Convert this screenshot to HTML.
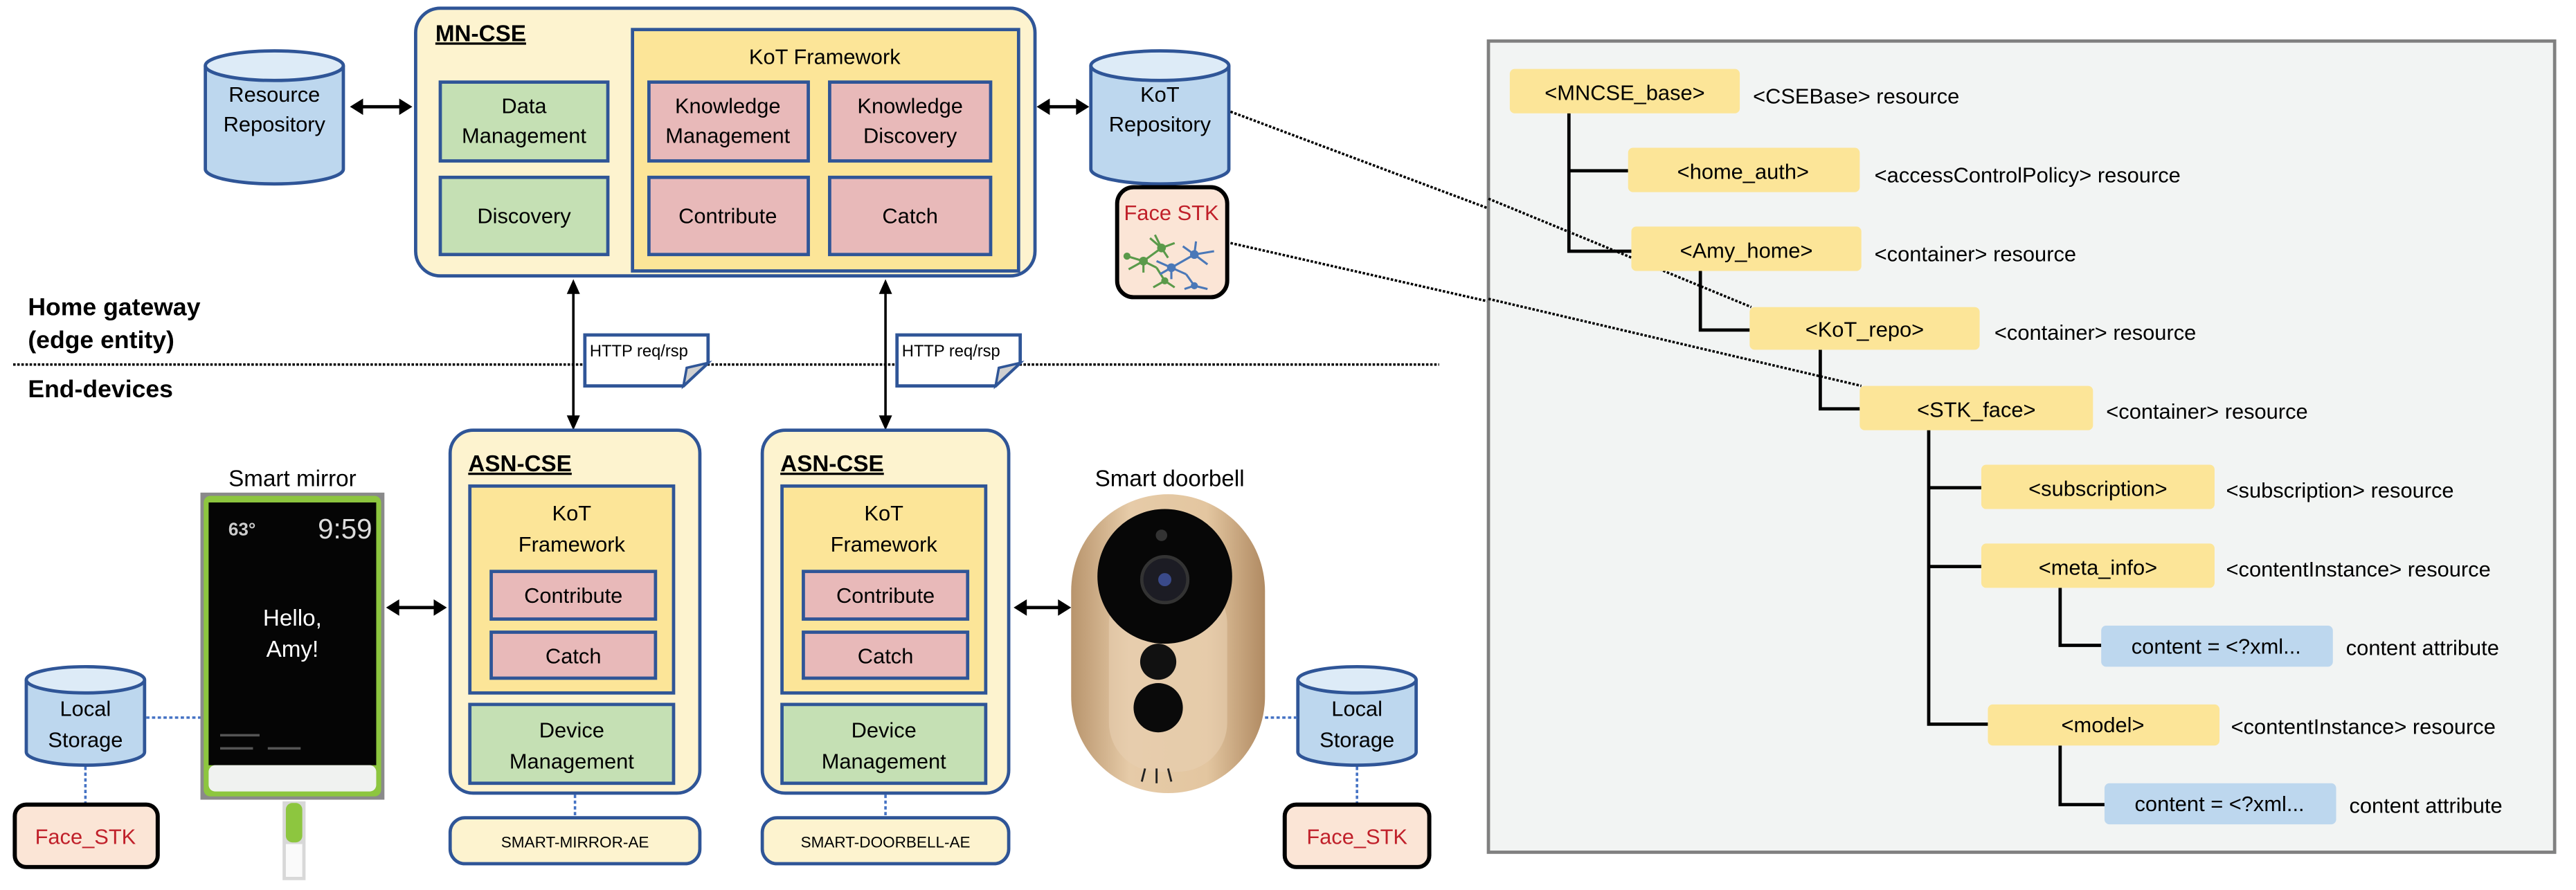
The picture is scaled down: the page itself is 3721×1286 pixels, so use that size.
<!DOCTYPE html>
<html><head><meta charset="utf-8"><style>
html,body{margin:0;padding:0;background:#fff;}
svg{display:block;}
text{font-family:"Liberation Sans",sans-serif;fill:#000;}
</style></head><body>
<svg width="3721" height="1286" viewBox="0 0 1568 542" preserveAspectRatio="none" xmlns="http://www.w3.org/2000/svg">
<defs>
<linearGradient id="gold" x1="0" y1="0" x2="1" y2="0">
<stop offset="0" stop-color="#b8946c"/><stop offset="0.3" stop-color="#e6cba8"/><stop offset="0.7" stop-color="#e3c6a0"/><stop offset="1" stop-color="#b08a62"/></linearGradient>
</defs>
<g font-size="13">
<!-- MN-CSE -->
<rect x="253" y="5" width="377" height="163" rx="15" fill="#fdf3cf" stroke="#2f5597" stroke-width="2"/>
<text x="265" y="25" font-weight="bold" font-size="14" text-decoration="underline">MN-CSE</text>
<rect x="385" y="18" width="235" height="147" fill="#fce598" stroke="#2f5597" stroke-width="2"/>
<text x="502" y="39" text-anchor="middle">KoT Framework</text>
<rect x="268" y="50" width="102" height="48" fill="#c5e0b4" stroke="#2f5597" stroke-width="2"/>
<text x="319" y="69" text-anchor="middle">Data</text><text x="319" y="87" text-anchor="middle">Management</text>
<rect x="268" y="108" width="102" height="47" fill="#c5e0b4" stroke="#2f5597" stroke-width="2"/>
<text x="319" y="136" text-anchor="middle">Discovery</text>
<rect x="395" y="50" width="97" height="48" fill="#e8b9b9" stroke="#2f5597" stroke-width="2"/>
<text x="443" y="69" text-anchor="middle">Knowledge</text><text x="443" y="87" text-anchor="middle">Management</text>
<rect x="505" y="50" width="98" height="48" fill="#e8b9b9" stroke="#2f5597" stroke-width="2"/>
<text x="554" y="69" text-anchor="middle">Knowledge</text><text x="554" y="87" text-anchor="middle">Discovery</text>
<rect x="395" y="108" width="97" height="47" fill="#e8b9b9" stroke="#2f5597" stroke-width="2"/>
<text x="443" y="136" text-anchor="middle">Contribute</text>
<rect x="505" y="108" width="98" height="47" fill="#e8b9b9" stroke="#2f5597" stroke-width="2"/>
<text x="554" y="136" text-anchor="middle">Catch</text>

<!-- Resource Repository -->
<path d="M125,40 L125,103 A42,9 0 0 0 209,103 L209,40" fill="#bdd7ee" stroke="#2f5597" stroke-width="2"/>
<ellipse cx="167" cy="40" rx="42" ry="9" fill="#ddebf7" stroke="#2f5597" stroke-width="2"/>
<text x="167" y="62" text-anchor="middle">Resource</text><text x="167" y="80" text-anchor="middle">Repository</text>
<line x1="217" y1="65" x2="247" y2="65" stroke="#000" stroke-width="2"/>
<path d="M213,65 l8,-5 v10 z M251,65 l-8,-5 v10 z" fill="#000"/>
<!-- KoT Repository -->
<path d="M664,40 L664,103 A42,9 0 0 0 748,103 L748,40" fill="#bdd7ee" stroke="#2f5597" stroke-width="2"/>
<ellipse cx="706" cy="40" rx="42" ry="9" fill="#ddebf7" stroke="#2f5597" stroke-width="2"/>
<text x="706" y="62" text-anchor="middle">KoT</text><text x="706" y="80" text-anchor="middle">Repository</text>
<line x1="634" y1="65" x2="660" y2="65" stroke="#000" stroke-width="2"/>
<path d="M631,65 l8,-5 v10 z M663,65 l-8,-5 v10 z" fill="#000"/>
<line x1="706" y1="113" x2="706" y2="118" stroke="#4472c4" stroke-width="1.5" stroke-dasharray="2,1.5"/>
<!-- Face STK -->
<rect x="680" y="114" width="67" height="67" rx="10" fill="#fbe5d6" stroke="#000" stroke-width="2.5"/>
<text x="713" y="134" text-anchor="middle" style="fill:#c0202a">Face STK</text>
<g stroke="#5a9a4a" stroke-width="1.3" fill="#5a9a4a">
<line x1="696" y1="159" x2="707" y2="151"/><line x1="707" y1="151" x2="715" y2="148"/><line x1="707" y1="151" x2="703" y2="143"/><line x1="707" y1="151" x2="711" y2="157"/><line x1="707" y1="151" x2="700" y2="145"/>
<line x1="696" y1="159" x2="686" y2="156"/><line x1="696" y1="159" x2="687" y2="164"/><line x1="696" y1="159" x2="696" y2="166"/><line x1="696" y1="159" x2="704" y2="163"/>
<line x1="704" y1="163" x2="709" y2="171"/><line x1="709" y1="171" x2="702" y2="175"/><line x1="709" y1="171" x2="715" y2="175"/>
<circle cx="696" cy="159" r="2"/><circle cx="707" cy="151" r="2"/><circle cx="709" cy="171" r="1.5"/><circle cx="686" cy="156" r="1.5"/></g>
<g stroke="#4a78b8" stroke-width="1.3" fill="#4a78b8">
<line x1="713" y1="163" x2="727" y2="155"/><line x1="727" y1="155" x2="739" y2="153"/><line x1="727" y1="155" x2="720" y2="150"/><line x1="727" y1="155" x2="728" y2="147"/><line x1="727" y1="155" x2="735" y2="161"/>
<line x1="713" y1="163" x2="704" y2="159"/><line x1="713" y1="163" x2="706" y2="167"/><line x1="713" y1="163" x2="713" y2="170"/><line x1="713" y1="163" x2="722" y2="167"/>
<line x1="722" y1="167" x2="727" y2="174"/><line x1="727" y1="174" x2="721" y2="176"/><line x1="727" y1="174" x2="735" y2="176"/>
<circle cx="713" cy="163" r="2"/><circle cx="727" cy="155" r="2"/><circle cx="727" cy="174" r="1.5"/></g>
<!-- dotted links to tree -->
<line x1="749" y1="68" x2="1066" y2="187" stroke="#000" stroke-width="1.5" stroke-dasharray="1.5,1"/>
<line x1="749" y1="148" x2="1133" y2="235" stroke="#000" stroke-width="1.5" stroke-dasharray="1.5,1"/>

<!-- labels -->
<text x="17" y="192" font-weight="bold" font-size="15">Home gateway</text>
<text x="17" y="212" font-weight="bold" font-size="15">(edge entity)</text>
<line x1="8" y1="222" x2="876" y2="222" stroke="#000" stroke-width="1.5" stroke-dasharray="1.5,1"/>
<text x="17" y="242" font-weight="bold" font-size="15">End-devices</text>

<!-- vertical arrows -->
<line x1="349" y1="178" x2="349" y2="255" stroke="#000" stroke-width="1.5"/>
<path d="M349,170 l-4,9 h8 z M349,262 l-4,-9 h8 z" fill="#000"/>
<line x1="539" y1="178" x2="539" y2="255" stroke="#000" stroke-width="1.5"/>
<path d="M539,170 l-4,9 h8 z M539,262 l-4,-9 h8 z" fill="#000"/>
<!-- notes -->
<path d="M356,204 H431 V221 L416,235 H356 Z" fill="#fff" stroke="#2f5597" stroke-width="2"/>
<path d="M431,221 L418,224 L416,235 Z" fill="#d0d0d0" stroke="#2f5597" stroke-width="1.5"/>
<text x="359" y="217" font-size="10">HTTP req/rsp</text>
<path d="M546,204 H621 V221 L606,235 H546 Z" fill="#fff" stroke="#2f5597" stroke-width="2"/>
<path d="M621,221 L608,224 L606,235 Z" fill="#d0d0d0" stroke="#2f5597" stroke-width="1.5"/>
<text x="549" y="217" font-size="10">HTTP req/rsp</text>

<!-- ASN-CSE 1 -->
<rect x="274" y="262" width="152" height="221" rx="14" fill="#fdf3cf" stroke="#2f5597" stroke-width="2"/>
<text x="285" y="287" font-weight="bold" font-size="14" text-decoration="underline">ASN-CSE</text>
<rect x="286" y="296" width="124" height="126" fill="#fce598" stroke="#2f5597" stroke-width="2"/>
<text x="348" y="317" text-anchor="middle">KoT</text><text x="348" y="336" text-anchor="middle">Framework</text>
<rect x="299" y="348" width="100" height="29" fill="#e8b9b9" stroke="#2f5597" stroke-width="2"/>
<text x="349" y="367" text-anchor="middle">Contribute</text>
<rect x="299" y="385" width="100" height="28" fill="#e8b9b9" stroke="#2f5597" stroke-width="2"/>
<text x="349" y="404" text-anchor="middle">Catch</text>
<rect x="286" y="429" width="124" height="48" fill="#c5e0b4" stroke="#2f5597" stroke-width="2"/>
<text x="348" y="449" text-anchor="middle">Device</text><text x="348" y="468" text-anchor="middle">Management</text>
<line x1="350" y1="484" x2="350" y2="497" stroke="#4472c4" stroke-width="1.5" stroke-dasharray="2,1.5"/>
<rect x="274" y="498" width="152" height="28" rx="9" fill="#fdf3cf" stroke="#2f5597" stroke-width="2"/>
<text x="350" y="516" text-anchor="middle" font-size="9.5">SMART-MIRROR-AE</text>

<!-- ASN-CSE 2 -->
<rect x="464" y="262" width="150" height="221" rx="14" fill="#fdf3cf" stroke="#2f5597" stroke-width="2"/>
<text x="475" y="287" font-weight="bold" font-size="14" text-decoration="underline">ASN-CSE</text>
<rect x="476" y="296" width="124" height="126" fill="#fce598" stroke="#2f5597" stroke-width="2"/>
<text x="538" y="317" text-anchor="middle">KoT</text><text x="538" y="336" text-anchor="middle">Framework</text>
<rect x="489" y="348" width="100" height="29" fill="#e8b9b9" stroke="#2f5597" stroke-width="2"/>
<text x="539" y="367" text-anchor="middle">Contribute</text>
<rect x="489" y="385" width="100" height="28" fill="#e8b9b9" stroke="#2f5597" stroke-width="2"/>
<text x="539" y="404" text-anchor="middle">Catch</text>
<rect x="476" y="429" width="124" height="48" fill="#c5e0b4" stroke="#2f5597" stroke-width="2"/>
<text x="538" y="449" text-anchor="middle">Device</text><text x="538" y="468" text-anchor="middle">Management</text>
<line x1="539" y1="484" x2="539" y2="497" stroke="#4472c4" stroke-width="1.5" stroke-dasharray="2,1.5"/>
<rect x="464" y="498" width="150" height="28" rx="9" fill="#fdf3cf" stroke="#2f5597" stroke-width="2"/>
<text x="539" y="516" text-anchor="middle" font-size="9.5">SMART-DOORBELL-AE</text>

<!-- Smart mirror -->
<text x="178" y="296" text-anchor="middle" font-size="14">Smart mirror</text>
<rect x="122" y="300" width="112" height="187" fill="#8a8a8a"/>
<rect x="124" y="302" width="108" height="183" rx="4" fill="#8dc63f"/>
<rect x="127" y="306" width="102" height="160" fill="#050505"/>
<rect x="127" y="466" width="102" height="16" rx="4" fill="#f0f2f0"/>
<text x="139" y="326" font-size="11" font-weight="bold" style="fill:#ccc">63°</text>
<text x="210" y="328" font-size="17" text-anchor="middle" style="fill:#ddd">9:59</text>
<text x="178" y="381" text-anchor="middle" font-size="14" style="fill:#fff">Hello,</text>
<text x="178" y="400" text-anchor="middle" font-size="14" style="fill:#fff">Amy!</text>
<rect x="134" y="447" width="24" height="1.5" fill="#555"/><rect x="134" y="455" width="20" height="1.5" fill="#555"/><rect x="163" y="455" width="20" height="1.5" fill="#555"/>
<rect x="172" y="488" width="14" height="48" fill="#d8d8d8"/>
<rect x="174" y="489" width="10" height="24" rx="4" fill="#8dc63f"/>
<rect x="174" y="514" width="10" height="20" fill="#fafafa"/>
<line x1="239" y1="370" x2="268" y2="370" stroke="#000" stroke-width="2"/>
<path d="M235,370 l8,-5 v10 z M272,370 l-8,-5 v10 z" fill="#000"/>

<!-- Smart doorbell -->
<text x="712" y="296" text-anchor="middle" font-size="14">Smart doorbell</text>
<rect x="652" y="301" width="118" height="182" rx="59" fill="url(#gold)"/>
<rect x="675" y="350" width="72" height="120" rx="30" fill="#e8cfb0" opacity="0.6"/>
<ellipse cx="709" cy="351" rx="41" ry="41" fill="#070707"/>
<circle cx="709" cy="353" r="14" fill="#1c1c24" stroke="#333" stroke-width="2"/>
<circle cx="709" cy="353" r="4" fill="#3a4a8a"/>
<circle cx="707" cy="326" r="3.5" fill="#333"/>
<circle cx="705" cy="403" r="11" fill="#111"/>
<circle cx="705" cy="431" r="15" fill="#0a0a0a"/>
<g stroke="#222" stroke-width="1.2"><line x1="697" y1="468" x2="695" y2="476"/><line x1="704" y1="468" x2="704" y2="477"/><line x1="711" y1="468" x2="713" y2="476"/></g>
<line x1="623" y1="370" x2="646" y2="370" stroke="#000" stroke-width="2"/>
<path d="M617,370 l8,-5 v10 z M652,370 l-8,-5 v10 z" fill="#000"/>

<!-- Local storage left -->
<path d="M16,414 L16,458 A36,8 0 0 0 88,458 L88,414" fill="#bdd7ee" stroke="#2f5597" stroke-width="2"/>
<ellipse cx="52" cy="414" rx="36" ry="8" fill="#ddebf7" stroke="#2f5597" stroke-width="2"/>
<text x="52" y="436" text-anchor="middle">Local</text><text x="52" y="455" text-anchor="middle">Storage</text>
<line x1="89" y1="437" x2="122" y2="437" stroke="#4472c4" stroke-width="1.5" stroke-dasharray="2,1.5"/>
<line x1="52" y1="467" x2="52" y2="490" stroke="#4472c4" stroke-width="1.5" stroke-dasharray="2,1.5"/>
<rect x="9" y="490" width="87" height="38" rx="7" fill="#fbe5d6" stroke="#000" stroke-width="2.5"/>
<text x="52" y="514" text-anchor="middle" style="fill:#c0202a">Face_STK</text>
<!-- Local storage right -->
<path d="M790,414 L790,458 A36,8 0 0 0 862,458 L862,414" fill="#bdd7ee" stroke="#2f5597" stroke-width="2"/>
<ellipse cx="826" cy="414" rx="36" ry="8" fill="#ddebf7" stroke="#2f5597" stroke-width="2"/>
<text x="826" y="436" text-anchor="middle">Local</text><text x="826" y="455" text-anchor="middle">Storage</text>
<line x1="770" y1="437" x2="790" y2="437" stroke="#4472c4" stroke-width="1.5" stroke-dasharray="2,1.5"/>
<line x1="826" y1="467" x2="826" y2="490" stroke="#4472c4" stroke-width="1.5" stroke-dasharray="2,1.5"/>
<rect x="782" y="490" width="88" height="38" rx="7" fill="#fbe5d6" stroke="#000" stroke-width="2.5"/>
<text x="826" y="514" text-anchor="middle" style="fill:#c0202a">Face_STK</text>
</g>

<!-- Right panel -->
<rect x="906" y="25" width="649" height="494" fill="#f2f4f3" stroke="#808080" stroke-width="2"/>
<line x1="906" y1="121" x2="1066" y2="187" stroke="#000" stroke-width="1.5" stroke-dasharray="1.5,1"/>
<line x1="906" y1="182" x2="1133" y2="235" stroke="#000" stroke-width="1.5" stroke-dasharray="1.5,1"/>
<g stroke="#000" stroke-width="2" fill="none">
<polyline points="955,69 955,153 993,153"/><line x1="955" y1="104" x2="991" y2="104"/>
<polyline points="1035,165 1035,201 1065,201"/>
<polyline points="1108,213 1108,249 1132,249"/>
<polyline points="1174,262 1174,441 1210,441"/><line x1="1174" y1="297" x2="1206" y2="297"/><line x1="1174" y1="345" x2="1206" y2="345"/>
<polyline points="1254,358 1254,393 1279,393"/>
<polyline points="1254,454 1254,490 1281,490"/>
</g>
<g font-size="13">
<rect x="919" y="42" width="140" height="27" rx="3" fill="#fce598"/><text x="989" y="61" text-anchor="middle">&lt;MNCSE_base&gt;</text>
<text x="1067" y="63">&lt;CSEBase&gt; resource</text>
<rect x="991" y="90" width="141" height="27" rx="3" fill="#fce598"/><text x="1061" y="109" text-anchor="middle">&lt;home_auth&gt;</text>
<text x="1141" y="111">&lt;accessControlPolicy&gt; resource</text>
<rect x="993" y="138" width="140" height="27" rx="3" fill="#fce598"/><text x="1063" y="157" text-anchor="middle">&lt;Amy_home&gt;</text>
<text x="1141" y="159">&lt;container&gt; resource</text>
<rect x="1065" y="187" width="140" height="26" rx="3" fill="#fce598"/><text x="1135" y="205" text-anchor="middle">&lt;KoT_repo&gt;</text>
<text x="1214" y="207">&lt;container&gt; resource</text>
<rect x="1132" y="235" width="142" height="27" rx="3" fill="#fce598"/><text x="1203" y="254" text-anchor="middle">&lt;STK_face&gt;</text>
<text x="1282" y="255">&lt;container&gt; resource</text>
<rect x="1206" y="283" width="142" height="27" rx="3" fill="#fce598"/><text x="1277" y="302" text-anchor="middle">&lt;subscription&gt;</text>
<text x="1355" y="303">&lt;subscription&gt; resource</text>
<rect x="1206" y="331" width="142" height="27" rx="3" fill="#fce598"/><text x="1277" y="350" text-anchor="middle">&lt;meta_info&gt;</text>
<text x="1355" y="351">&lt;contentInstance&gt; resource</text>
<rect x="1279" y="381" width="141" height="25" rx="3" fill="#bdd7ee"/><text x="1349" y="398" text-anchor="middle">content  = &lt;?xml...</text>
<text x="1428" y="399">content attribute</text>
<rect x="1210" y="429" width="141" height="25" rx="3" fill="#fce598"/><text x="1280" y="446" text-anchor="middle">&lt;model&gt;</text>
<text x="1358" y="447">&lt;contentInstance&gt; resource</text>
<rect x="1281" y="477" width="141" height="25" rx="3" fill="#bdd7ee"/><text x="1351" y="494" text-anchor="middle">content  = &lt;?xml...</text>
<text x="1430" y="495">content attribute</text>
</g>
</svg>
</body></html>
